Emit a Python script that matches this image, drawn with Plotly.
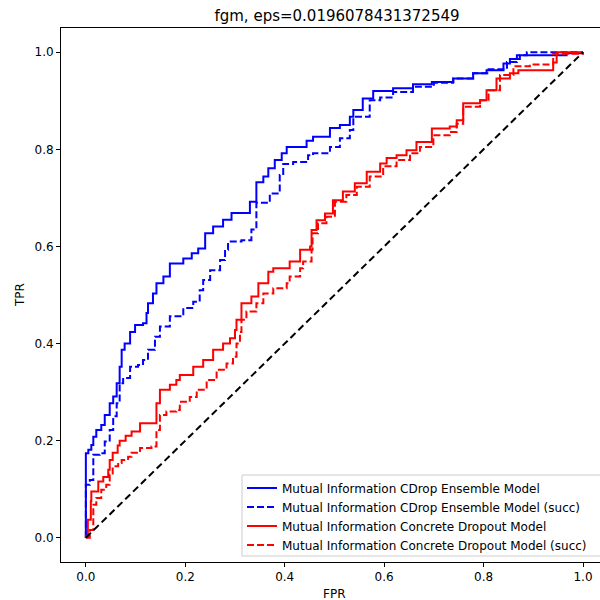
import plotly.graph_objects as go

# ---- data ----
cdrop_fpr = [0, 0, 0.005, 0.011, 0.015, 0.021, 0.031, 0.038, 0.048, 0.055, 0.062, 0.068, 0.072, 0.078, 0.089, 0.099, 0.115, 0.122, 0.125, 0.135, 0.142, 0.156, 0.169, 0.196, 0.213, 0.226, 0.24, 0.256, 0.276, 0.293, 0.33, 0.343, 0.357, 0.367, 0.38, 0.394, 0.404, 0.444, 0.457, 0.491, 0.511, 0.531, 0.538, 0.557, 0.578, 0.618, 0.658, 0.696, 0.739, 0.779, 0.806, 0.84, 0.853, 0.873, 0.967, 1.0]
cdrop_tpr = [0, 0.174, 0.181, 0.191, 0.208, 0.222, 0.232, 0.253, 0.277, 0.291, 0.318, 0.352, 0.387, 0.40, 0.424, 0.438, 0.442, 0.463, 0.483, 0.503, 0.524, 0.538, 0.565, 0.575, 0.586, 0.596, 0.627, 0.641, 0.655, 0.669, 0.692, 0.732, 0.744, 0.761, 0.778, 0.792, 0.805, 0.818, 0.826, 0.844, 0.850, 0.867, 0.881, 0.905, 0.92, 0.926, 0.934, 0.939, 0.946, 0.957, 0.963, 0.977, 0.986, 0.994, 0.998, 1.0]

cdrop_succ_fpr = [0, 0, 0.008, 0.015, 0.028, 0.038, 0.048, 0.055, 0.062, 0.068, 0.075, 0.089, 0.105, 0.115, 0.125, 0.139, 0.149, 0.169, 0.196, 0.216, 0.229, 0.236, 0.25, 0.27, 0.28, 0.286, 0.313, 0.333, 0.343, 0.370, 0.390, 0.397, 0.417, 0.447, 0.457, 0.491, 0.511, 0.531, 0.538, 0.571, 0.592, 0.618, 0.658, 0.70, 0.739, 0.779, 0.81, 0.847, 0.867, 0.887, 1.0]
cdrop_succ_tpr = [0, 0.109, 0.119, 0.171, 0.174, 0.198, 0.222, 0.25, 0.277, 0.318, 0.329, 0.352, 0.356, 0.366, 0.387, 0.414, 0.435, 0.456, 0.473, 0.486, 0.51, 0.531, 0.551, 0.572, 0.593, 0.61, 0.613, 0.635, 0.69, 0.709, 0.747, 0.77, 0.774, 0.788, 0.792, 0.805, 0.823, 0.84, 0.867, 0.901, 0.907, 0.918, 0.929, 0.937, 0.946, 0.957, 0.965, 0.98, 0.994, 1.0, 1.0]

concrete_fpr = [0, 0, 0.004, 0.01, 0.011, 0.025, 0.035, 0.045, 0.048, 0.054, 0.064, 0.068, 0.08, 0.092, 0.109, 0.142, 0.149, 0.169, 0.182, 0.189, 0.216, 0.236, 0.256, 0.276, 0.29, 0.30, 0.303, 0.313, 0.333, 0.347, 0.367, 0.377, 0.41, 0.431, 0.451, 0.454, 0.464, 0.481, 0.497, 0.517, 0.541, 0.565, 0.592, 0.605, 0.625, 0.645, 0.665, 0.696, 0.732, 0.746, 0.759, 0.793, 0.806, 0.826, 0.853, 0.87, 0.94, 0.947, 1.0]
concrete_tpr = [0, 0.003, 0.037, 0.075, 0.095, 0.116, 0.125, 0.14, 0.16, 0.175, 0.19, 0.2, 0.21, 0.219, 0.236, 0.277, 0.305, 0.315, 0.325, 0.335, 0.352, 0.366, 0.387, 0.40, 0.411, 0.428, 0.449, 0.483, 0.497, 0.524, 0.548, 0.555, 0.569, 0.593, 0.60, 0.634, 0.654, 0.668, 0.695, 0.713, 0.73, 0.754, 0.771, 0.782, 0.788, 0.798, 0.815, 0.843, 0.847, 0.86, 0.895, 0.901, 0.922, 0.946, 0.957, 0.963, 0.979, 1.0, 1.0]

concrete_succ_fpr = [0, 0.008, 0.015, 0.021, 0.031, 0.041, 0.048, 0.054, 0.065, 0.072, 0.085, 0.092, 0.109, 0.132, 0.142, 0.149, 0.162, 0.182, 0.189, 0.209, 0.223, 0.243, 0.263, 0.283, 0.296, 0.303, 0.31, 0.313, 0.323, 0.343, 0.357, 0.377, 0.404, 0.41, 0.431, 0.437, 0.454, 0.456, 0.467, 0.484, 0.501, 0.524, 0.545, 0.571, 0.598, 0.625, 0.652, 0.672, 0.699, 0.732, 0.746, 0.759, 0.793, 0.81, 0.833, 0.86, 0.893, 0.94, 1.0]
concrete_succ_tpr = [0, 0.016, 0.068, 0.082, 0.099, 0.109, 0.13, 0.147, 0.154, 0.16, 0.167, 0.175, 0.185, 0.188, 0.222, 0.253, 0.26, 0.263, 0.28, 0.29, 0.305, 0.325, 0.346, 0.359, 0.373, 0.40, 0.424, 0.449, 0.466, 0.483, 0.503, 0.514, 0.524, 0.538, 0.555, 0.569, 0.593, 0.627, 0.648, 0.661, 0.692, 0.706, 0.723, 0.744, 0.765, 0.778, 0.792, 0.805, 0.829, 0.836, 0.853, 0.888, 0.901, 0.922, 0.953, 0.971, 0.975, 0.997, 1.0]

chance = [0, 1]

names = [
    "Mutual Information CDrop Ensemble Model",
    "Mutual Information CDrop Ensemble Model (succ)",
    "Mutual Information Concrete Dropout Model",
    "Mutual Information Concrete Dropout Model (succ)",
]
title_text = "fgm, eps=0.0196078431372549"
tick_vals = [0.0, 0.2, 0.4, 0.6, 0.8, 1.0]

FONT = "DejaVu Sans"
DASH = "7px,3px"

# plot area in pixels: x 61..600, y 28..562
PW, PH, PL, PB = 539, 534, 61, 562

fig = go.Figure()
series = [
    (cdrop_fpr, cdrop_tpr, "#0000ff", "solid"),
    (cdrop_succ_fpr, cdrop_succ_tpr, "#0000ff", DASH),
    (concrete_fpr, concrete_tpr, "#ff0000", "solid"),
    (concrete_succ_fpr, concrete_succ_tpr, "#ff0000", DASH),
]
for (xs, ys, col, dash), nm in zip(series, names):
    fig.add_trace(go.Scatter(x=xs, y=ys, mode="lines", name=nm,
                             line=dict(color=col, width=2, dash=dash, shape="hv")))

fig.add_trace(go.Scatter(x=chance, y=chance, mode="lines", showlegend=False,
                         line=dict(color="black", width=2, dash="7px,4px")))

# legend frame (drawn as a shape so its size matches the reference)
fig.add_shape(type="rect", xref="paper", yref="paper",
              x0=(242 - PL) / PW, x1=1.05, y0=(PB - 556) / PH, y1=(PB - 475) / PH,
              fillcolor="rgba(255,255,255,0.8)", line=dict(color="#cccccc", width=1),
              layer="above")

fig.update_layout(
    width=600, height=600,
    margin=dict(l=61, r=0, t=28, b=38),
    paper_bgcolor="white", plot_bgcolor="white",
    font=dict(family=FONT, size=12, color="black"),
    title=dict(text=title_text, font=dict(family=FONT, size=15, color="black"),
               x=(337 - PL) / PW, xref="paper", xanchor="center",
               y=1 - 16 / 600, yref="container", yanchor="middle"),
    legend=dict(x=(242 - PL) / PW, y=0.012 - 4 / PH, xanchor="left", yanchor="bottom",
                bgcolor="rgba(0,0,0,0)", borderwidth=0,
                font=dict(family=FONT, size=12, color="black"), tracegroupgap=0),
    showlegend=True,
)
fig.update_xaxes(range=[-0.05, 1.0342], tickvals=tick_vals, tickformat=".1f",
                 showgrid=False, zeroline=False, showline=True, linecolor="black",
                 linewidth=1, mirror=True, ticks="outside", ticklen=4, tickcolor="black",
                 tickfont=dict(family=FONT, size=12, color="black"))
fig.update_yaxes(range=[-0.05, 1.05], tickvals=tick_vals, tickformat=".1f",
                 showgrid=False, zeroline=False, showline=True, linecolor="black",
                 linewidth=1, mirror=False, ticks="outside", ticklen=4, tickcolor="black",
                 tickfont=dict(family=FONT, size=12, color="black"))

fig.add_annotation(text="FPR", xref="paper", yref="paper", x=(334 - PL) / PW,
                   y=(PB - 594) / PH, showarrow=False, xanchor="center", yanchor="middle",
                   font=dict(family=FONT, size=12, color="black"))
fig.add_annotation(text="TPR", xref="paper", yref="paper", x=(20 - PL) / PW,
                   y=(PB - 295) / PH, showarrow=False, xanchor="center", yanchor="middle",
                   textangle=-90, font=dict(family=FONT, size=12, color="black"))

fig.write_html("out.html")
